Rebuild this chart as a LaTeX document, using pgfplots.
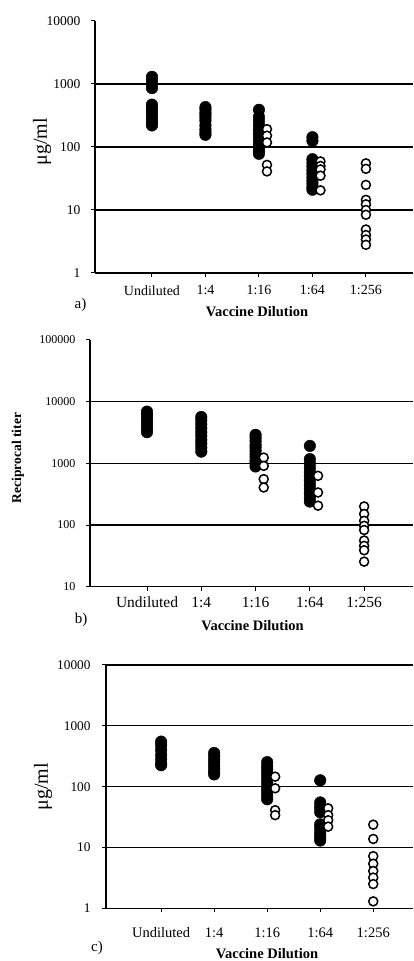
\documentclass[border=0pt]{standalone}
\usepackage{fontspec}
\setmainfont{Liberation Serif}
\usepackage{pgfplots}
\pgfplotsset{compat=1.18}

\pgfplotsset{
  every axis/.append style={
    scale only axis,
    anchor=south west,
    axis x line=bottom, axis y line=left,
    axis line style={-, line width=1.5pt},
    tick align=outside,
    major tick length=4pt,
    tick style={black, line width=1pt},
    yminorticks=false,
    xtick={1,2,3,4,5},
    xticklabels={Undiluted,1:4,1:16,1:64,1:256},
    ymajorgrids=true,
    grid style={black, line width=1.3pt},
    clip=false,
  },
  fil/.style={only marks, mark=*, mark size=5.8pt, mark options={fill=black, draw=black, line width=0.4pt}},
  hol/.style={only marks, mark=*, mark size=4.5pt, mark options={fill=white, draw=black, line width=1.5pt}},
}

\begin{document}
\begin{tikzpicture}
\path[use as bounding box] (0,0) rectangle (413pt,961pt);

% ---------------- panel a ----------------
\begin{axis}[ymode=log,
  at={(95pt,688pt)}, width=318pt, height=252pt,
  xmin=-0.065, xmax=5.88, ymin=1, ymax=10000,
  ytick={10,100,1000}, yticklabels={10,100,1000},
  extra y ticks={1,10000}, extra y tick labels={1,10000},
  extra y tick style={grid=none},
  yticklabel style={font=\fontsize{13.5}{15}\selectfont, xshift=-7pt},
  xticklabel style={font=\fontsize{14}{16}\selectfont, yshift=-5pt},
]
\addplot[fil] coordinates {(1,1300) (1,1150) (1,1000) (1,860) (1,470) (1,420) (1,380) (1,340) (1,300) (1,270) (1,245) (1,220)};
\addplot[fil] coordinates {(2,430) (2,390) (2,350) (2,320) (2,290) (2,260) (2,220) (2,190) (2,170) (2,156)};
\addplot[fil] coordinates {(3,390) (3,300) (3,260) (3,220) (3,190) (3,165) (3,145) (3,125) (3,110) (3,97) (3,87) (3,78)};
\addplot[fil] coordinates {(4,143) (4,125) (4,64) (4,56) (4,49) (4,43) (4,38) (4,33) (4,29) (4,26) (4,23) (4,21)};
\addplot[hol] coordinates {(3.15,192) (3.15,151) (3.15,118) (3.15,52) (3.15,41)};
\addplot[hol] coordinates {(4.15,59) (4.15,50) (4.15,44) (4.15,35) (4.15,20.5)};
\addplot[hol] coordinates {(5,55) (5,45) (5,25) (5,14.5) (5,12.3) (5,10) (5,8.4) (5,4.9) (5,4.0) (5,3.4) (5,2.8)};
\end{axis}
\node at (80.5pt,656pt) {\fontsize{15}{17}\selectfont a)};
\node at (257pt,649pt) {\fontsize{14.5}{17}\selectfont\bfseries Vaccine Dilution};
\node[rotate=90] at (42pt,819pt) {\fontsize{20}{22}\selectfont μg/ml};

% ---------------- panel b ----------------
\begin{axis}[ymode=log,
  at={(90pt,374.3pt)}, width=323pt, height=246.7pt,
  xmin=-0.05, xmax=5.9, ymin=10, ymax=100000,
  ytick={100,1000,10000}, yticklabels={100,1000,10000},
  extra y ticks={10,100000}, extra y tick labels={10,100000},
  extra y tick style={grid=none},
  yticklabel style={font=\fontsize{12}{14}\selectfont, xshift=-7pt},
  xticklabel style={font=\fontsize{15.5}{17}\selectfont, yshift=-3pt},
]
\addplot[fil] coordinates {(1,6900) (1,6200) (1,5600) (1,5000) (1,4500) (1,4000) (1,3600) (1,3200)};
\addplot[fil] coordinates {(2,5650) (2,5000) (2,4300) (2,3700) (2,3200) (2,2800) (2,2400) (2,2100) (2,1800) (2,1550)};
\addplot[fil] coordinates {(3,2900) (3,2600) (3,2300) (3,2000) (3,1800) (3,1600) (3,1400) (3,1250) (3,1100) (3,1000) (3,890)};
\addplot[fil] coordinates {(4,1920) (4,1170) (4,1000) (4,850) (4,720) (4,620) (4,530) (4,450) (4,390) (4,330) (4,280) (4,240)};
\addplot[hol] coordinates {(3.15,1240) (3.15,910) (3.15,555) (3.15,406)};
\addplot[hol] coordinates {(4.15,628) (4.15,337) (4.15,206)};
\addplot[hol] coordinates {(5,200) (5,151) (5,117) (5,97) (5,83) (5,56) (5,46) (5,39) (5,25.5)};
\end{axis}
\node at (81pt,341pt) {\fontsize{15}{17}\selectfont b)};
\node at (252.5pt,335pt) {\fontsize{14.5}{17}\selectfont\bfseries Vaccine Dilution};
\node[rotate=90] at (18pt,503pt) {\fontsize{13.5}{15}\selectfont\bfseries Reciprocal titer};

% ---------------- panel c ----------------
\begin{axis}[ymode=log,
  at={(106pt,52.7pt)}, width=307pt, height=243.3pt,
  xmin=-0.04, xmax=5.75, ymin=1, ymax=10000,
  ytick={10,100,1000,10000}, yticklabels={10,100,1000,10000},
  extra y ticks={1}, extra y tick labels={1},
  extra y tick style={grid=none},
  yticklabel style={font=\fontsize{13.3}{15}\selectfont, xshift=-8pt},
  xticklabel style={font=\fontsize{14.5}{16}\selectfont, yshift=-12pt},
]
\addplot[fil] coordinates {(1,550) (1,480) (1,400) (1,330) (1,280) (1,240) (1,225)};
\addplot[fil] coordinates {(2,358) (2,320) (2,280) (2,250) (2,220) (2,195) (2,175) (2,159)};
\addplot[fil] coordinates {(3,253) (3,220) (3,195) (3,170) (3,150) (3,130) (3,115) (3,100) (3,90) (3,80) (3,70) (3,62)};
\addplot[fil] coordinates {(4,127) (4,55) (4,48) (4,43) (4,38) (4,24) (4,21) (4,18) (4,16) (4,14.5) (4,13)};
\addplot[hol] coordinates {(3.15,146) (3.15,94) (3.15,41) (3.15,34)};
\addplot[hol] coordinates {(4.15,44) (4.15,34) (4.15,28) (4.15,22)};
\addplot[hol] coordinates {(5,23.7) (5,13.8) (5,7.2) (5,5.4) (5,4.1) (5,3.2) (5,2.5) (5,1.3)};
\end{axis}
\node at (97pt,13pt) {\fontsize{15}{17}\selectfont c)};
\node at (267pt,7pt) {\fontsize{14.5}{17}\selectfont\bfseries Vaccine Dilution};
\node[rotate=90] at (43pt,174.3pt) {\fontsize{20}{22}\selectfont μg/ml};
\end{tikzpicture}
\end{document}
